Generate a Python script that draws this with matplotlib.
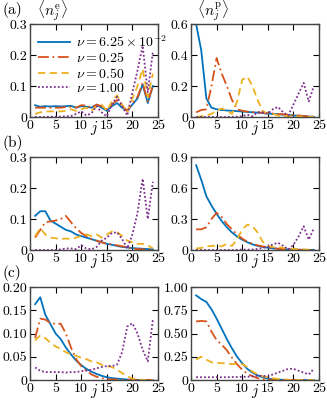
import numpy as np
import matplotlib
matplotlib.use("Agg")
import matplotlib.pyplot as plt

plt.rcParams['font.family'] = 'cmr10'
plt.rcParams['mathtext.fontset'] = 'cm'
plt.rcParams['axes.unicode_minus'] = False
plt.rcParams['font.size'] = 10

j = np.arange(1, 25)

nus = [r'$\nu = 6.25\times10^{-2}$', r'$\nu = 0.25$', r'$\nu = 0.50$', r'$\nu = 1.00$']
colors = ['#0072BD', '#D95319', '#EDB120', '#7E2F8E']

# panel (a)
a_e_1 = [0.038, 0.033, 0.035, 0.034, 0.035, 0.034, 0.035, 0.036, 0.030, 0.035, 0.033, 0.030,
         0.040, 0.030, 0.020, 0.035, 0.045, 0.030, 0.020, 0.040, 0.060, 0.105, 0.045, 0.100]
a_e_2 = [0.030, 0.030, 0.030, 0.030, 0.030, 0.030, 0.032, 0.033, 0.030, 0.038, 0.037, 0.030,
         0.040, 0.035, 0.025, 0.040, 0.055, 0.035, 0.020, 0.045, 0.065, 0.110, 0.050, 0.100]
a_e_3 = [0.010, 0.015, 0.018, 0.018, 0.018, 0.018, 0.020, 0.025, 0.020, 0.025, 0.030, 0.020,
         0.035, 0.040, 0.020, 0.050, 0.070, 0.040, 0.015, 0.060, 0.100, 0.155, 0.065, 0.140]
a_e_4 = [0.000, 0.000, 0.000, 0.001, 0.001, 0.001, 0.002, 0.003, 0.010, 0.018, 0.005, 0.012,
         0.035, 0.015, 0.002, 0.040, 0.065, 0.035, 0.005, 0.080, 0.150, 0.230, 0.080, 0.210]

a_p_1 = [0.600, 0.430, 0.120, 0.060, 0.050, 0.045, 0.042, 0.040, 0.038, 0.035, 0.033, 0.030,
         0.028, 0.025, 0.022, 0.020, 0.018, 0.015, 0.013, 0.010, 0.008, 0.005, 0.003, 0.001]
a_p_2 = [0.030, 0.045, 0.050, 0.200, 0.380, 0.280, 0.200, 0.110, 0.050, 0.040, 0.035, 0.032,
         0.030, 0.028, 0.025, 0.022, 0.020, 0.017, 0.015, 0.012, 0.010, 0.007, 0.004, 0.002]
a_p_3 = [0.000, 0.005, 0.010, 0.020, 0.040, 0.055, 0.040, 0.020, 0.100, 0.240, 0.260, 0.200,
         0.110, 0.040, 0.020, 0.020, 0.010, 0.008, 0.006, 0.004, 0.003, 0.002, 0.001, 0.001]
a_p_4 = [0.000, 0.000, 0.000, 0.000, 0.000, 0.000, 0.000, 0.001, 0.002, 0.005, 0.015, 0.005,
         0.030, 0.030, 0.020, 0.050, 0.065, 0.030, 0.010, 0.080, 0.150, 0.220, 0.100, 0.200]

# panel (b)
b_e_1 = [0.110, 0.125, 0.125, 0.095, 0.085, 0.075, 0.065, 0.060, 0.050, 0.045, 0.040, 0.035,
         0.030, 0.025, 0.020, 0.017, 0.013, 0.010, 0.008, 0.006, 0.005, 0.004, 0.003, 0.002]
b_e_2 = [0.040, 0.065, 0.090, 0.092, 0.095, 0.100, 0.110, 0.090, 0.070, 0.055, 0.045, 0.035,
         0.030, 0.025, 0.020, 0.018, 0.015, 0.012, 0.008, 0.005, 0.003, 0.002, 0.001, 0.000]
b_e_3 = [0.045, 0.070, 0.050, 0.040, 0.038, 0.035, 0.037, 0.035, 0.040, 0.045, 0.050, 0.045,
         0.050, 0.040, 0.050, 0.060, 0.058, 0.045, 0.030, 0.025, 0.020, 0.020, 0.015, 0.005]
b_e_4 = [0.000, 0.000, 0.000, 0.000, 0.000, 0.002, 0.005, 0.005, 0.003, 0.015, 0.005, 0.002,
         0.010, 0.030, 0.040, 0.055, 0.057, 0.035, 0.005, 0.050, 0.120, 0.230, 0.100, 0.220]

b_p_1 = [0.820, 0.680, 0.520, 0.430, 0.350, 0.280, 0.220, 0.170, 0.130, 0.100, 0.075, 0.055,
         0.040, 0.030, 0.022, 0.016, 0.012, 0.008, 0.006, 0.004, 0.003, 0.002, 0.001, 0.001]
b_p_2 = [0.200, 0.200, 0.220, 0.300, 0.360, 0.320, 0.250, 0.200, 0.150, 0.110, 0.080, 0.060,
         0.045, 0.035, 0.025, 0.018, 0.012, 0.008, 0.005, 0.003, 0.002, 0.001, 0.000, 0.000]
b_p_3 = [0.015, 0.020, 0.035, 0.040, 0.040, 0.035, 0.060, 0.040, 0.100, 0.200, 0.245, 0.230,
         0.170, 0.080, 0.040, 0.030, 0.030, 0.020, 0.015, 0.010, 0.008, 0.005, 0.003, 0.002]
b_p_4 = [0.000, 0.000, 0.000, 0.000, 0.000, 0.000, 0.000, 0.000, 0.002, 0.005, 0.003, 0.005,
         0.010, 0.020, 0.030, 0.055, 0.070, 0.040, 0.005, 0.050, 0.130, 0.230, 0.100, 0.210]

# panel (c)
c_e_1 = [0.163, 0.178, 0.140, 0.120, 0.100, 0.088, 0.070, 0.055, 0.042, 0.032, 0.024, 0.018,
         0.013, 0.009, 0.006, 0.004, 0.003, 0.002, 0.001, 0.001, 0.000, 0.000, 0.000, 0.000]
c_e_2 = [0.090, 0.132, 0.130, 0.122, 0.121, 0.121, 0.100, 0.070, 0.045, 0.030, 0.020, 0.012,
         0.007, 0.004, 0.002, 0.001, 0.001, 0.000, 0.000, 0.000, 0.000, 0.000, 0.000, 0.000]
c_e_3 = [0.085, 0.096, 0.090, 0.080, 0.072, 0.067, 0.060, 0.055, 0.052, 0.048, 0.045, 0.040,
         0.038, 0.033, 0.030, 0.028, 0.022, 0.015, 0.008, 0.003, 0.001, 0.000, 0.000, 0.000]
c_e_4 = [0.027, 0.020, 0.017, 0.017, 0.017, 0.017, 0.016, 0.017, 0.017, 0.019, 0.020, 0.022,
         0.025, 0.028, 0.030, 0.030, 0.033, 0.060, 0.115, 0.122, 0.100, 0.065, 0.040, 0.130]

c_p_1 = [0.910, 0.870, 0.840, 0.760, 0.660, 0.550, 0.440, 0.340, 0.250, 0.180, 0.120, 0.080,
         0.050, 0.030, 0.015, 0.008, 0.004, 0.002, 0.001, 0.000, 0.000, 0.000, 0.000, 0.000]
c_p_2 = [0.630, 0.635, 0.630, 0.520, 0.430, 0.380, 0.320, 0.240, 0.170, 0.110, 0.070, 0.040,
         0.020, 0.010, 0.005, 0.002, 0.001, 0.000, 0.000, 0.000, 0.000, 0.000, 0.000, 0.000]
c_p_3 = [0.220, 0.250, 0.220, 0.190, 0.185, 0.180, 0.180, 0.170, 0.175, 0.170, 0.140, 0.090,
         0.060, 0.040, 0.030, 0.020, 0.010, 0.005, 0.002, 0.001, 0.000, 0.000, 0.000, 0.000]
c_p_4 = [0.030, 0.030, 0.030, 0.030, 0.030, 0.030, 0.030, 0.032, 0.032, 0.033, 0.035, 0.040,
         0.045, 0.045, 0.040, 0.060, 0.080, 0.100, 0.120, 0.120, 0.100, 0.080, 0.060, 0.120]

panels = [
    ([a_e_1, a_e_2, a_e_3, a_e_4], [a_p_1, a_p_2, a_p_3, a_p_4]),
    ([b_e_1, b_e_2, b_e_3, b_e_4], [b_p_1, b_p_2, b_p_3, b_p_4]),
    ([c_e_1, c_e_2, c_e_3, c_e_4], [c_p_1, c_p_2, c_p_3, c_p_4]),
]
yticks = [
    ([0, 0.1, 0.2, 0.3], ['0', '0.1', '0.2', '0.3'], [0, 0.2, 0.4, 0.6], ['0', '0.2', '0.4', '0.6']),
    ([0, 0.1, 0.2, 0.3], ['0', '0.1', '0.2', '0.3'], [0, 0.3, 0.6, 0.9], ['0', '0.3', '0.6', '0.9']),
    ([0, 0.05, 0.1, 0.15, 0.2], ['0', '0.05', '0.10', '0.15', '0.20'],
     [0, 0.25, 0.5, 0.75, 1.0], ['0', '0.25', '0.50', '0.75', '1.00']),
]
letters = ['(a)', '(b)', '(c)']
styles = [dict(ls='-'), dict(ls=(0, (6, 2, 1, 2))), dict(ls=(0, (4, 2.5))), dict(ls=(0, (1, 1.2)))]

W, H = 327, 401
fig = plt.figure(figsize=(W / 100, H / 100), dpi=100)

tops = [24, 157, 287]
hgt = 93
lefts = [30, 191]
wid = 128

for r in range(3):
    for c in range(2):
        ax = fig.add_axes([lefts[c] / W, 1 - (tops[r] + hgt) / H, wid / W, hgt / H])
        series = panels[r][c]
        for k in range(4):
            ax.plot(j, series[k], color=colors[k], lw=1.3, label=nus[k], **styles[k])
        ax.set_xlim(0, 25)
        ax.set_xticks([0, 5, 10, 15, 20, 25])
        yt = yticks[r]
        ax.set_ylim(yt[2 * c][0], yt[2 * c][-1])
        ax.set_yticks(yt[2 * c])
        ax.set_yticklabels(yt[2 * c + 1])
        ax.tick_params(direction='in', top=True, right=True, length=4, width=0.8,
                       pad=2, labelsize=10)
        for s in ax.spines.values():
            s.set_color('#444444')
            s.set_linewidth(1.0)
        ax.set_xlabel(r'$j$', labelpad=-9, fontsize=11)
        if r == 0 and c == 0:
            ax.legend(loc='upper left', bbox_to_anchor=(0.0, 0.98), frameon=False,
                      fontsize=10, handlelength=2.3, handletextpad=0.4,
                      labelspacing=0.1, borderaxespad=0.2)
    fig.text(2 / W, 1 - (tops[r] - 14) / H, letters[r], fontsize=11, va='center', ha='left')

fig.text(37 / W, 1 - 11 / H, r'$\langle n_j^{\rm e}\rangle$', fontsize=11, va='center')
fig.text(197 / W, 1 - 11 / H, r'$\langle n_j^{\rm p}\rangle$', fontsize=11, va='center')

fig.savefig('out.png', dpi=100)
